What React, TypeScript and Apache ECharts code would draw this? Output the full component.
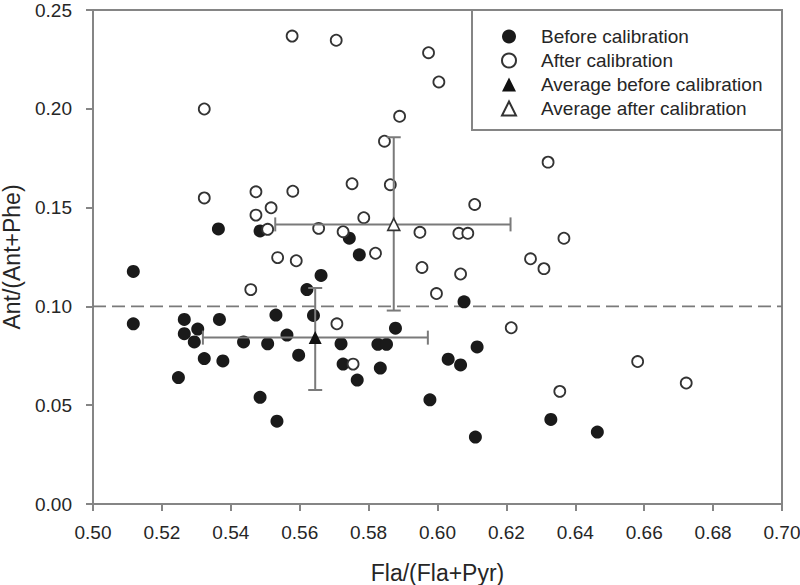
import React, { useEffect, useRef } from "react";
import * as echarts from "echarts";

const beforeX = [0.5364, 0.5485, 0.5744, 0.5773, 0.5117, 0.5662, 0.5621, 0.6077, 0.5117, 0.5265, 0.5367, 0.5531, 0.564, 0.5304, 0.5878, 0.5265, 0.5563, 0.5294, 0.5437, 0.5507, 0.572, 0.5827, 0.5852, 0.6115, 0.5597, 0.5323, 0.5377, 0.6031, 0.6067, 0.5726, 0.5834, 0.5248, 0.5767, 0.5485, 0.5978, 0.5534, 0.6329, 0.6464, 0.611];
const beforeY = [0.1392, 0.1382, 0.1345, 0.1261, 0.1177, 0.1157, 0.1085, 0.1023, 0.0912, 0.0934, 0.0934, 0.0956, 0.0954, 0.0885, 0.089, 0.0862, 0.0855, 0.082, 0.082, 0.0811, 0.0811, 0.0808, 0.0808, 0.0795, 0.0753, 0.0736, 0.0724, 0.0733, 0.0704, 0.0708, 0.0688, 0.064, 0.0627, 0.054, 0.0527, 0.0419, 0.0428, 0.0364, 0.0339];

const afterX = [0.5323, 0.5578, 0.5706, 0.5974, 0.6004, 0.589, 0.5846, 0.5323, 0.5473, 0.558, 0.5752, 0.5863, 0.6321, 0.6108, 0.5517, 0.5473, 0.5507, 0.5786, 0.5655, 0.5726, 0.5949, 0.6062, 0.6088, 0.582, 0.5536, 0.559, 0.5955, 0.6067, 0.5458, 0.5997, 0.5708, 0.5755, 0.6214, 0.6367, 0.627, 0.6309, 0.6581, 0.6722, 0.6355];
const afterY = [0.1999, 0.2368, 0.2347, 0.2284, 0.2136, 0.1962, 0.1836, 0.1549, 0.158, 0.1583, 0.1621, 0.1616, 0.173, 0.1516, 0.1499, 0.1462, 0.139, 0.1449, 0.1395, 0.1378, 0.1375, 0.137, 0.137, 0.1269, 0.1247, 0.1231, 0.1197, 0.1164, 0.1085, 0.1065, 0.0912, 0.0708, 0.0892, 0.1345, 0.1241, 0.1191, 0.0721, 0.0612, 0.057];

const avgX = [0.5645, 0.5873];
const avgY = [0.0842, 0.1415];
const avgXLow = [0.5319, 0.5529];
const avgXHigh = [0.5972, 0.6212];
const avgYLow = [0.0577, 0.0979];
const avgYHigh = [0.1093, 0.1856];

const refLineX = [0.5, 0.7];
const refLineY = [0.1, 0.1];

const seriesNames = [
  "Before calibration",
  "After calibration",
  "Average before calibration",
  "Average after calibration",
];

const FONT = "'Liberation Sans', Arial, sans-serif";
const TEXT = "#262626";
const AXIS = "#858585";

export default function App() {
  const ref = useRef<HTMLDivElement>(null);
  useEffect(() => {
    if (!ref.current) return;
    const chart = echarts.init(ref.current, undefined, { renderer: "svg" });
    const zip = (xs: number[], ys: number[]) => xs.map((x, i) => [x, ys[i]]);
    const errData = avgX.map((x, i) => [x, avgY[i], avgXLow[i], avgXHigh[i], avgYLow[i], avgYHigh[i]]);
    const option: any = {
      animation: false,
      backgroundColor: "#fff",
      textStyle: { fontFamily: FONT },
      grid: {
        left: 93,
        right: 18,
        top: 10,
        bottom: 81,
        containLabel: false,
        outerBoundsMode: "none",
        show: true,
        borderColor: AXIS,
        borderWidth: 2,
        backgroundColor: "transparent",
      },
      xAxis: {
        type: "value",
        min: 0.5,
        max: 0.7,
        interval: 0.02,
        name: "Fla/(Fla+Pyr)",
        nameLocation: "middle",
        nameGap: 57,
        nameTextStyle: { fontSize: 23, color: TEXT, fontFamily: FONT },
        axisLine: { show: true, lineStyle: { color: AXIS, width: 2 } },
        axisTick: { show: true, inside: false, length: 7, lineStyle: { color: AXIS, width: 2 } },
        axisLabel: {
          margin: 19,
          fontSize: 19,
          color: TEXT,
          fontFamily: FONT,
          formatter: (v: number) => v.toFixed(2),
        },
        splitLine: { show: false },
      },
      yAxis: {
        type: "value",
        min: 0,
        max: 0.25,
        interval: 0.05,
        name: "Ant/(Ant+Phe)",
        nameLocation: "middle",
        nameRotate: 90,
        nameGap: 70,
        nameTextStyle: { fontSize: 23, color: TEXT, fontFamily: FONT },
        axisLine: { show: true, lineStyle: { color: AXIS, width: 2 } },
        axisTick: { show: true, inside: false, length: 7, lineStyle: { color: AXIS, width: 2 } },
        axisLabel: {
          margin: 21,
          fontSize: 19,
          color: TEXT,
          fontFamily: FONT,
          formatter: (v: number) => v.toFixed(2),
        },
        splitLine: { show: false },
      },
      legend: {
        data: seriesNames,
        orient: "vertical",
        left: 501,
        top: 27,
        padding: 0,
        itemWidth: 14,
        itemHeight: 14,
        itemGap: 5,
        selectedMode: false,
        z: 10,
        textStyle: { fontSize: 19, color: TEXT, fontFamily: FONT, padding: [0, 0, 0, 20] },
      },
      graphic: [
        {
          type: "rect",
          z: 9,
          shape: { x: 472, y: 10, width: 310, height: 120 },
          style: { fill: "#fff", stroke: AXIS, lineWidth: 2 },
        },
      ],
      series: [
        {
          name: "refline",
          type: "line",
          data: zip(refLineX, refLineY),
          symbol: "none",
          silent: true,
          lineStyle: { color: "#7a7a7a", width: 1.6, type: [13, 6] },
          z: 1,
        },
        {
          name: seriesNames[0],
          type: "scatter",
          data: zip(beforeX, beforeY),
          symbol: "circle",
          symbolSize: 13,
          itemStyle: { color: "#1a1a1a", borderColor: "#1a1a1a", borderWidth: 0, opacity: 1 },
          z: 2,
        },
        {
          name: seriesNames[1],
          type: "scatter",
          data: zip(afterX, afterY),
          symbol: "circle",
          symbolSize: 11,
          itemStyle: { color: "#fff", borderColor: "#333", borderWidth: 1.8, opacity: 1 },
          z: 3,
        },
        {
          name: "errorbars",
          type: "custom",
          data: errData,
          encode: { x: 0, y: 1 },
          silent: true,
          z: 4,
          renderItem: (params: any, api: any) => {
            const x = api.value(0);
            const y = api.value(1);
            const l = api.coord([api.value(2), y]);
            const r = api.coord([api.value(3), y]);
            const b = api.coord([x, api.value(4)]);
            const t = api.coord([x, api.value(5)]);
            const cap = 7;
            const style = { stroke: "#7a7a7a", lineWidth: 2, fill: "none" };
            return {
              type: "group",
              children: [
                { type: "line", shape: { x1: l[0], y1: l[1], x2: r[0], y2: r[1] }, style },
                { type: "line", shape: { x1: l[0], y1: l[1] - cap, x2: l[0], y2: l[1] + cap }, style },
                { type: "line", shape: { x1: r[0], y1: r[1] - cap, x2: r[0], y2: r[1] + cap }, style },
                { type: "line", shape: { x1: b[0], y1: b[1], x2: t[0], y2: t[1] }, style },
                { type: "line", shape: { x1: b[0] - cap, y1: b[1], x2: b[0] + cap, y2: b[1] }, style },
                { type: "line", shape: { x1: t[0] - cap, y1: t[1], x2: t[0] + cap, y2: t[1] }, style },
              ],
            };
          },
        },
        {
          name: seriesNames[2],
          type: "scatter",
          data: [[avgX[0], avgY[0]]],
          symbol: "triangle",
          symbolSize: 13,
          itemStyle: { color: "#111", opacity: 1 },
          z: 5,
        },
        {
          name: seriesNames[3],
          type: "scatter",
          data: [[avgX[1], avgY[1]]],
          symbol: "triangle",
          symbolSize: 12,
          itemStyle: { color: "#fff", borderColor: "#333", borderWidth: 1.6, opacity: 1 },
          z: 5,
        },
      ],
    };
    chart.setOption(option);
    return () => chart.dispose();
  }, []);
  return (
    <div
      ref={ref}
      style={{ position: "fixed", left: 0, top: 0, width: 800, height: 585, background: "#fff" }}
    />
  );
}
